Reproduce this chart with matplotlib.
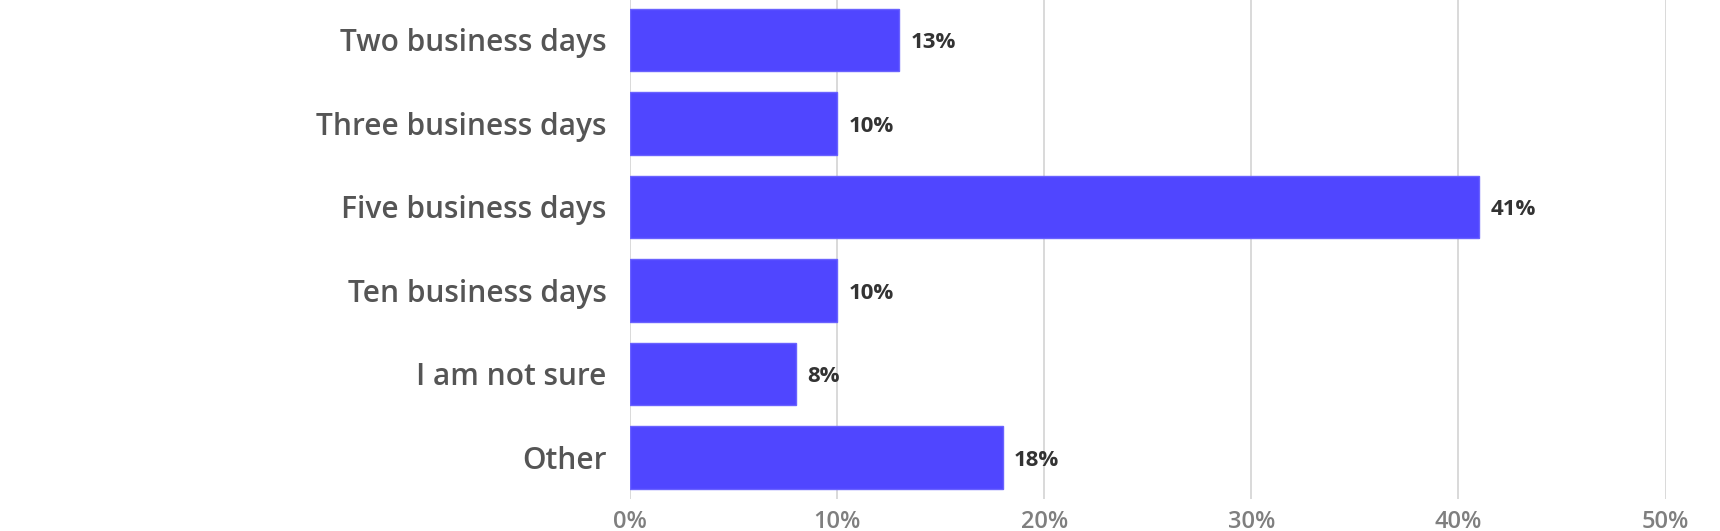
import matplotlib
matplotlib.use("Agg")
import matplotlib.pyplot as plt

categories = ["Two business days", "Three business days", "Five business days",
              "Ten business days", "I am not sure", "Other"]
values = [13, 10, 41, 10, 8, 18]
tick_values = [0, 10, 20, 30, 40, 50]
tick_labels = ["0%", "10%", "20%", "30%", "40%", "50%"]

plt.rcParams['font.family'] = ['Open Sans', 'DejaVu Sans']

fig = plt.figure(figsize=(17.2, 5.31), dpi=100)
ax = fig.add_axes([630/1720, (531-499)/531, (1665.5-630)/1720, 500.75/531])

y = list(range(len(categories)))
ax.barh(y, values, height=0.75, color="#5046FF", edgecolor="#6A62FF", linewidth=1, zorder=3)
ax.set_ylim(len(categories)-0.5, -0.5)
ax.set_xlim(0, 50)
ax.set_xticks(tick_values)
ax.set_xticklabels(tick_labels)
ax.set_yticks(y)
ax.set_yticklabels(categories)
ax.grid(axis="x", color="#D3D3D3", linewidth=1.2, zorder=0)
ax.grid(axis="y", visible=False)
for s in ax.spines.values():
    s.set_visible(False)
ax.tick_params(axis="y", length=0, pad=17, labelsize=21.5, labelcolor="#555555")
ax.tick_params(axis="x", length=0, pad=8, labelsize=17, labelcolor="#7F7F7F")
for lbl in ax.get_yticklabels():
    lbl.set_fontweight("semibold")
for lbl in ax.get_xticklabels():
    lbl.set_fontweight("semibold")

for yi, v in zip(y, values):
    ax.annotate(f"{v}%", (v, yi), xytext=(8, -2), textcoords="offset points",
                va="center", ha="left", fontsize=16, fontweight="bold", color="#333333")

fig.savefig("out.png", dpi=100)
